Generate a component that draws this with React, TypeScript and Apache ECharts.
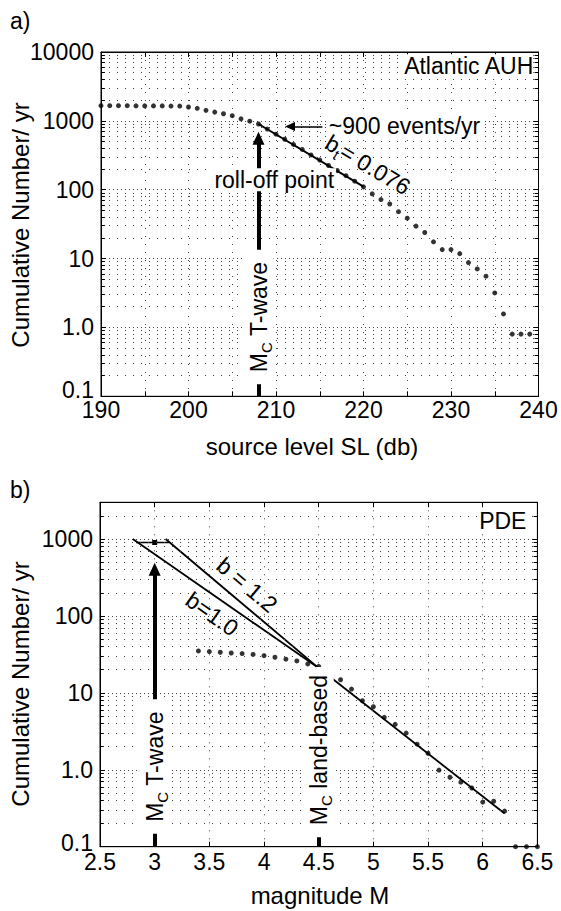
import React, { useEffect, useRef } from 'react';
import * as echarts from 'echarts';

const FONT = 'Liberation Sans, Arial, Helvetica, sans-serif';

// ---------- Panel a: Atlantic AUH (source level vs cumulative number) ----------
const SL_A = [
  190, 191, 192, 193, 194, 195, 196, 197, 198, 199,
  200, 201, 202, 203, 204, 205, 206, 207, 208, 209,
  210, 211, 212, 213, 214, 215, 216, 217, 218, 219,
  220, 221, 222, 223, 224, 225, 226, 227, 228, 229,
  230, 231, 232, 233, 234, 235, 236, 237, 238, 239,
];
const N_A = [
  1660, 1660, 1660, 1660, 1650, 1650, 1650, 1650, 1640, 1640,
  1590, 1520, 1420, 1340, 1270, 1190, 1070, 990, 900, 760,
  640, 540, 455, 385, 320, 270, 225, 190, 160, 133,
  110, 87, 72, 62, 48, 38.6, 29.6, 23.9, 17.5, 13.5,
  13.5, 11.8, 8.75, 7.08, 5.55, 3.17, 1.57, 0.8, 0.8, 0.8,
];
const FIT_A_SL = [208, 220];
const FIT_A_N = [900, 111];
const X_A_LABELS = ['190', '200', '210', '220', '230', '240'];

// ---------- Panel b: PDE (magnitude vs cumulative number) ----------
const M_B = [
  3.4, 3.5, 3.6, 3.7, 3.8, 3.9, 4.0, 4.1, 4.2, 4.3,
  4.4, 4.5, 4.6, 4.7, 4.8, 4.9, 5.0, 5.1, 5.2, 5.3,
  5.4, 5.5, 5.6, 5.7, 5.8, 5.9, 6.0, 6.1, 6.2, 6.3,
  6.4, 6.5,
];
const N_B = [
  35.1, 34.4, 33.7, 33.0, 32.4, 31.6, 30.4, 29.0, 27.4, 26.0,
  23.8, 22.0, 18.4, 14.8, 11.2, 7.9, 6.6, 4.8, 3.9, 3.0,
  2.15, 1.64, 0.99, 0.8, 0.69, 0.58, 0.38, 0.39, 0.29, 0.1,
  0.1, 0.1,
];
const B10_M = [2.8, 4.5];
const B10_N = [1000, 21];
const B12_M = [3.1, 4.5];
const B12_N = [1000, 21];
const FITB_M = [4.5, 6.2];
const FITB_N = [21, 0.27];
const TW_M = [2.83, 3.0, 3.13];
const TW_N = [900, 900, 900];
const X_B_LABELS = ['2.5', '3', '3.5', '4', '4.5', '5', '5.5', '6', '6.5'];

const Y_TICK_VALUES = [0.1, 1, 10, 100, 1000, 10000];
const Y_TICK_LABELS = ['0.1', '1.0', '10', '100', '1000', '10000'];

const yLabel = (v: number) => {
  for (let i = 0; i < Y_TICK_VALUES.length; i++) {
    if (Math.abs(Math.log10(v) - Math.log10(Y_TICK_VALUES[i])) < 1e-6) return Y_TICK_LABELS[i];
  }
  return '';
};
const yLabelLifted = (v: number) => {
  const s = yLabel(v);
  return s === Y_TICK_LABELS[0] ? `{lo|${s}}` : s;
};

const minorValues = (max: number) => {
  const out: number[] = [];
  for (let e = -1; e <= 3; e++) {
    for (let m = 2; m <= 9; m++) {
      const v = +(m * Math.pow(10, e)).toPrecision(3);
      if (v < max * 0.999) out.push(v);
    }
  }
  return out;
};

const pairs = (xs: number[], ys: number[]) => xs.map((x, i) => [x, ys[i]]);

const GRID_DOT = { type: [1, 7] as any, color: '#444', width: 1 };
const GRID_MAJOR = { type: [1, 3] as any, color: '#444', width: 1 };

const rich = {
  m: { fontSize: 23, fontFamily: FONT, color: '#000', lineHeight: 30, textBorderWidth: 0 },
  s: { fontSize: 15, fontFamily: FONT, color: '#000', lineHeight: 15, verticalAlign: 'bottom', textBorderWidth: 0 },
};

const lab = (x: number, y: number, text: string, extra: any = {}) => ({
  value: [x, y],
  label: { formatter: text, ...extra },
});

function helperSeries(xi: number, yi: number, xmin: number, xmax: number, ymax: number, tickW: number) {
  const minors = minorValues(ymax);
  const tick = { type: 'solid', color: '#000', width: 1 };
  return {
    type: 'line',
    xAxisIndex: xi,
    yAxisIndex: yi,
    data: [],
    silent: true,
    z: 1,
    markLine: {
      silent: true,
      symbol: 'none',
      animation: false,
      label: { show: false },
      emphasis: { disabled: true },
      lineStyle: GRID_DOT,
      data: [
        ...minors.map((v) => ({ yAxis: v })),
        ...minors.map((v) => [{ coord: [xmin, v], lineStyle: tick }, { coord: [xmin + tickW, v] }]),
        ...minors.map((v) => [{ coord: [xmax - tickW, v], lineStyle: tick }, { coord: [xmax, v] }]),
      ],
    },
  };
}

const axisCommon = {
  axisLine: { show: true, onZero: false, lineStyle: { color: '#000', width: 1 } },
  axisTick: { show: true, inside: true, length: 5, lineStyle: { color: '#000' } },
};

const labelSeriesStyle = {
  show: true, position: 'inside', color: '#000', fontSize: 23, fontFamily: FONT,
  backgroundColor: '#fff', textBorderWidth: 0, textBorderColor: 'transparent', opacity: 1, rich,
};

const option: any = {
  animation: false,
  backgroundColor: '#fff',
  textStyle: { fontFamily: FONT, color: '#000' },
  grid: [
    { left: 101, top: 52, width: 437.5, height: 344.3, show: true, borderColor: '#000', borderWidth: 1, backgroundColor: 'transparent' },
    { left: 100, top: 502.3, width: 437.4, height: 344.4, show: true, borderColor: '#000', borderWidth: 1, backgroundColor: 'transparent' },
  ],
  xAxis: [
    {
      gridIndex: 0, type: 'value', min: 190, max: 240, interval: 5, ...axisCommon,
      axisLabel: { fontSize: 23, color: '#000', margin: 2, formatter: (v: number) => (X_A_LABELS.includes(String(v)) ? String(v) : '') },
      splitLine: { show: true, lineStyle: GRID_DOT },
    },
    {
      gridIndex: 0, type: 'value', position: 'top', min: 190, max: 240, interval: 5, ...axisCommon,
      axisLabel: { show: false }, splitLine: { show: false },
    },
    {
      gridIndex: 1, type: 'value', min: 2.5, max: 6.5, interval: 0.5, ...axisCommon,
      axisLabel: { fontSize: 23, color: '#000', margin: 4, formatter: (v: number) => (X_B_LABELS.includes(String(v)) ? String(v) : '') },
      splitLine: { show: true, lineStyle: GRID_DOT },
    },
    {
      gridIndex: 1, type: 'value', position: 'top', min: 2.5, max: 6.5, interval: 0.5, ...axisCommon,
      axisLabel: { show: false }, splitLine: { show: false },
    },
  ],
  yAxis: [
    {
      gridIndex: 0, type: 'log', logBase: 10, min: 0.1, max: 10000, ...axisCommon,
      axisLabel: {
        fontSize: 23, color: '#000', margin: 7, formatter: yLabelLifted,
        rich: { lo: { fontSize: 23, fontFamily: FONT, color: '#000', padding: [0, 0, 12, 0] } },
      },
      splitLine: { show: true, lineStyle: GRID_MAJOR },
    },
    {
      gridIndex: 0, type: 'log', logBase: 10, position: 'right', min: 0.1, max: 10000, ...axisCommon,
      axisLabel: { show: false }, splitLine: { show: false },
    },
    {
      gridIndex: 1, type: 'log', logBase: 10, min: 0.1, max: 3000, ...axisCommon,
      axisLabel: {
        fontSize: 23, color: '#000', margin: 7, formatter: yLabelLifted,
        rich: { lo: { fontSize: 23, fontFamily: FONT, color: '#000', padding: [0, 0, 8, 0] } },
      },
      splitLine: { show: true, lineStyle: GRID_MAJOR },
    },
    {
      gridIndex: 1, type: 'log', logBase: 10, position: 'right', min: 0.1, max: 3000, ...axisCommon,
      axisLabel: { show: false }, splitLine: { show: false },
    },
  ],
  graphic: [
    { type: 'text', x: 10, y: 21, style: { text: 'a)', fontSize: 23, fontFamily: FONT, fill: '#000', verticalAlign: 'middle' } },
    { type: 'text', x: 10, y: 490, style: { text: 'b)', fontSize: 23, fontFamily: FONT, fill: '#000', verticalAlign: 'middle' } },
    { type: 'text', x: 20, y: 225, rotation: Math.PI / 2, style: { text: 'Cumulative Number/ yr', fontSize: 24, fontFamily: FONT, fill: '#000', align: 'center', verticalAlign: 'middle' } },
    { type: 'text', x: 20, y: 684, rotation: Math.PI / 2, style: { text: 'Cumulative Number/ yr', fontSize: 24, fontFamily: FONT, fill: '#000', align: 'center', verticalAlign: 'middle' } },
    { type: 'text', x: 312, y: 446, style: { text: 'source level SL (db)', fontSize: 24, fontFamily: FONT, fill: '#000', align: 'center', verticalAlign: 'middle' } },
    { type: 'text', x: 320, y: 895, style: { text: 'magnitude M', fontSize: 24, fontFamily: FONT, fill: '#000', align: 'center', verticalAlign: 'middle' } },
  ],
  series: [
    // ---- panel a ----
    helperSeries(0, 0, 190, 240, 10000, 0.45),
    {
      type: 'scatter', xAxisIndex: 0, yAxisIndex: 0, z: 3, clip: false,
      symbol: 'circle', symbolSize: 5, itemStyle: { color: '#000' },
      data: pairs(SL_A, N_A),
    },
    {
      type: 'line', xAxisIndex: 0, yAxisIndex: 0, z: 4, showSymbol: false, symbol: 'none',
      lineStyle: { color: '#000', width: 2 }, data: pairs(FIT_A_SL, FIT_A_N),
    },
    {
      type: 'line', xAxisIndex: 0, yAxisIndex: 0, data: [], z: 5, silent: true,
      markLine: {
        silent: true, animation: false, label: { show: false }, emphasis: { disabled: true },
        data: [
          [
            { coord: [208, 0.1], symbol: 'none', lineStyle: { color: '#000', width: 4, type: 'solid' } },
            { coord: [208, 560], symbol: 'triangle', symbolSize: [12, 13] },
          ],
          [
            { coord: [215.3, 830], symbol: 'none', lineStyle: { color: '#000', width: 1.5, type: 'solid' } },
            { coord: [211.6, 830], symbol: 'triangle', symbolSize: [9, 10] },
          ],
        ],
      },
    },
    {
      type: 'scatter', xAxisIndex: 0, yAxisIndex: 0, z: 10, symbolSize: 0, silent: true,
      itemStyle: { color: '#000' },
      label: labelSeriesStyle,
      data: [
        lab(239.4, 6300, 'Atlantic AUH', { align: 'right' }),
        lab(215.8, 830, '~900 events/yr', { align: 'left', padding: [0, 2] }),
        lab(209.8, 140, 'roll-off point', { padding: [0, 2] }),
        lab(220.5, 230, '{m|b}{s|t}{m|= 0.076}', { rotate: -31, backgroundColor: 'transparent' }),
        lab(208, 1.42, '{m|M}{s|C}{m| T-wave}', { rotate: 90, padding: [0, 12, 0, 12] }),
      ],
    },
    // ---- panel b ----
    helperSeries(2, 2, 2.5, 6.5, 3000, 0.035),
    {
      type: 'scatter', xAxisIndex: 2, yAxisIndex: 2, z: 3, clip: false,
      symbol: 'circle', symbolSize: 5, itemStyle: { color: '#000' },
      data: pairs(M_B, N_B),
    },
    {
      type: 'line', xAxisIndex: 2, yAxisIndex: 2, z: 4, showSymbol: false, symbol: 'none',
      lineStyle: { color: '#000', width: 1.8 }, data: pairs(B10_M, B10_N),
    },
    {
      type: 'line', xAxisIndex: 2, yAxisIndex: 2, z: 4, showSymbol: false, symbol: 'none',
      lineStyle: { color: '#000', width: 1.8 }, data: pairs(B12_M, B12_N),
    },
    {
      type: 'line', xAxisIndex: 2, yAxisIndex: 2, z: 4, showSymbol: false, symbol: 'none',
      lineStyle: { color: '#000', width: 1.8 }, data: pairs(FITB_M, FITB_N),
    },
    {
      type: 'line', xAxisIndex: 2, yAxisIndex: 2, z: 4, symbol: 'rect', symbolSize: 5, showSymbol: true,
      itemStyle: { color: '#000' }, lineStyle: { color: '#000', width: 1.5 },
      data: pairs(TW_M, TW_N).map((p, i) => (i === 1 ? { value: p } : { value: p, symbol: 'none' })),
    },
    {
      type: 'line', xAxisIndex: 2, yAxisIndex: 2, data: [], z: 5, silent: true,
      markLine: {
        silent: true, animation: false, label: { show: false }, emphasis: { disabled: true },
        data: [
          [
            { coord: [3.0, 0.1], symbol: 'none', lineStyle: { color: '#000', width: 4, type: 'solid' } },
            { coord: [3.0, 405], symbol: 'triangle', symbolSize: [12, 13] },
          ],
          [
            { coord: [4.5, 0.1], symbol: 'none', lineStyle: { color: '#000', width: 4, type: 'solid' } },
            { coord: [4.5, 1.7], symbol: 'none' },
          ],
        ],
      },
    },
    {
      type: 'scatter', xAxisIndex: 2, yAxisIndex: 2, z: 10, symbolSize: 0, silent: true,
      itemStyle: { color: '#000' },
      label: labelSeriesStyle,
      data: [
        lab(6.4, 1690, 'PDE', { align: 'right' }),
        lab(3.845, 252, 'b = 1.2', { rotate: -40, backgroundColor: 'transparent' }),
        lab(3.525, 106, 'b=1.0', { rotate: -35, backgroundColor: 'transparent' }),
        lab(3.0, 1.1, '{m|M}{s|C}{m| T-wave}', { rotate: 90, padding: [0, 12, 0, 12] }),
        lab(4.5, 1.7, '{m|M}{s|C}{m| land-based}', { rotate: 90, padding: [0, 8, 0, 12] }),
      ],
    },
  ],
};

export default function App() {
  const ref = useRef<HTMLDivElement>(null);
  useEffect(() => {
    if (!ref.current) return;
    const chart = echarts.init(ref.current, null, { renderer: 'svg' });
    chart.setOption(option);
    return () => chart.dispose();
  }, []);
  return <div ref={ref} style={{ position: 'absolute', left: 0, top: 0, width: 561, height: 911 }} />;
}
